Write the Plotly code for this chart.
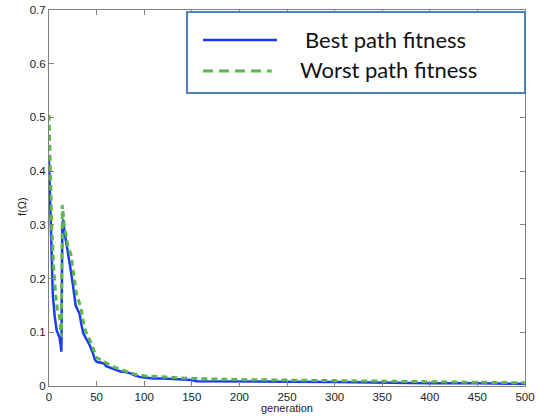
import plotly.graph_objects as go

# ---- data ----
best_gen = [0, 1, 2, 4, 6, 8, 10, 11, 12, 13, 14, 15, 16, 18, 20, 22, 25, 28, 30, 32, 34, 36,
            40, 43, 46, 48, 50, 55, 58, 60, 65, 70, 75, 80, 85, 90, 95, 100, 110, 120, 130, 140,
            150, 155, 200, 250, 300, 320, 350, 400, 450, 500]
best_fit = [0.42, 0.36, 0.29, 0.17, 0.13, 0.104, 0.095, 0.09, 0.08, 0.064, 0.30, 0.31, 0.29, 0.265,
            0.24, 0.225, 0.19, 0.15, 0.142, 0.135, 0.115, 0.098, 0.085, 0.075, 0.062, 0.05, 0.045,
            0.044, 0.042, 0.037, 0.034, 0.03, 0.027, 0.026, 0.024, 0.02, 0.017, 0.016, 0.014, 0.014,
            0.013, 0.012, 0.011, 0.009, 0.008, 0.008, 0.0075, 0.007, 0.006, 0.005, 0.005, 0.004]

worst_gen = [0, 1, 2, 3, 5, 7, 9, 11, 12, 13, 14, 15, 16, 18, 20, 23, 26, 29, 31, 34, 37, 40, 43,
             46, 48, 50, 55, 60, 65, 70, 80, 90, 100, 110, 130, 150, 200, 250, 300, 350, 400, 450, 500]
worst_fit = [0.505, 0.44, 0.36, 0.29, 0.22, 0.17, 0.14, 0.13, 0.11, 0.092, 0.337, 0.32, 0.30, 0.28,
             0.26, 0.245, 0.21, 0.17, 0.16, 0.141, 0.11, 0.095, 0.085, 0.07, 0.06, 0.053, 0.048,
             0.043, 0.038, 0.034, 0.028, 0.022, 0.019, 0.018, 0.016, 0.014, 0.012, 0.011, 0.010,
             0.009, 0.008, 0.007, 0.006]

series_names = ["Best path fitness", "Worst path fitness"]
x_ticks = [0, 50, 100, 150, 200, 250, 300, 350, 400, 450, 500]
y_ticks = [0, 0.1, 0.2, 0.3, 0.4, 0.5, 0.6, 0.7]
y_tick_labels = ["0", "0.1", "0.2", "0.3", "0.4", "0.5", "0.6", "0.7"]
x_title = "generation"
y_title = "f(Ω)"

BLUE = "#1a3cf0"
GREEN = "#5cb84a"
TXT_FONT = "Liberation Sans, Arial"

fig = go.Figure()
fig.add_trace(go.Scatter(x=best_gen, y=best_fit, mode="lines", name=series_names[0],
                         line=dict(color=BLUE, width=2.5), showlegend=False))
fig.add_trace(go.Scatter(x=worst_gen, y=worst_fit, mode="lines", name=series_names[1],
                         line=dict(color=GREEN, width=3, dash="6px,4px"), showlegend=False))

axis_common = dict(showgrid=False, zeroline=False, showline=True, linecolor="#808080",
                   linewidth=1, mirror="ticks", ticks="inside", ticklen=5, tickcolor="#808080",
                   automargin=False,
                   tickfont=dict(family=TXT_FONT, size=11.5, color="#222"))

fig.update_xaxes(range=[0, 500], tickvals=x_ticks, **axis_common)
fig.update_yaxes(range=[0, 0.7], tickvals=y_ticks, ticktext=y_tick_labels, **axis_common)

# axis titles
fig.add_annotation(xref="paper", yref="paper", x=0.5, y=-0.081, text=x_title,
                   showarrow=False, xanchor="center", yanchor="bottom",
                   font=dict(family=TXT_FONT, size=11, color="#222"))
fig.add_annotation(xref="paper", yref="paper", x=-0.058, y=0.477, text=y_title,
                   showarrow=False, xanchor="center", yanchor="middle", textangle=-90,
                   font=dict(family=TXT_FONT, size=11, color="#222"))

# custom legend box
fig.add_shape(type="rect", xref="paper", yref="paper", x0=0.29, x1=1.0, y0=0.779, y1=0.9947,
              line=dict(color="#4f7fbd", width=2), fillcolor="white", layer="above")
fig.add_shape(type="line", xref="paper", yref="paper", x0=0.3235, x1=0.479, y0=0.920, y1=0.920,
              line=dict(color=BLUE, width=2.5), layer="above")
fig.add_shape(type="line", xref="paper", yref="paper", x0=0.3235, x1=0.468, y0=0.838, y1=0.838,
              line=dict(color=GREEN, width=3, dash="10px,6px"), layer="above")
fig.add_annotation(xref="paper", yref="paper", x=0.534, y=0.922, text=series_names[0],
                   showarrow=False, xanchor="left", yanchor="middle",
                   font=dict(family="Lato, Open Sans", size=22, color="#111"))
fig.add_annotation(xref="paper", yref="paper", x=0.523, y=0.842, text=series_names[1],
                   showarrow=False, xanchor="left", yanchor="middle",
                   font=dict(family="Lato, Open Sans", size=22, color="#111"))

fig.update_layout(width=548, height=416, margin=dict(l=49, r=23, t=10, b=30),
                  paper_bgcolor="white", plot_bgcolor="white")

fig.write_html("out.html")
